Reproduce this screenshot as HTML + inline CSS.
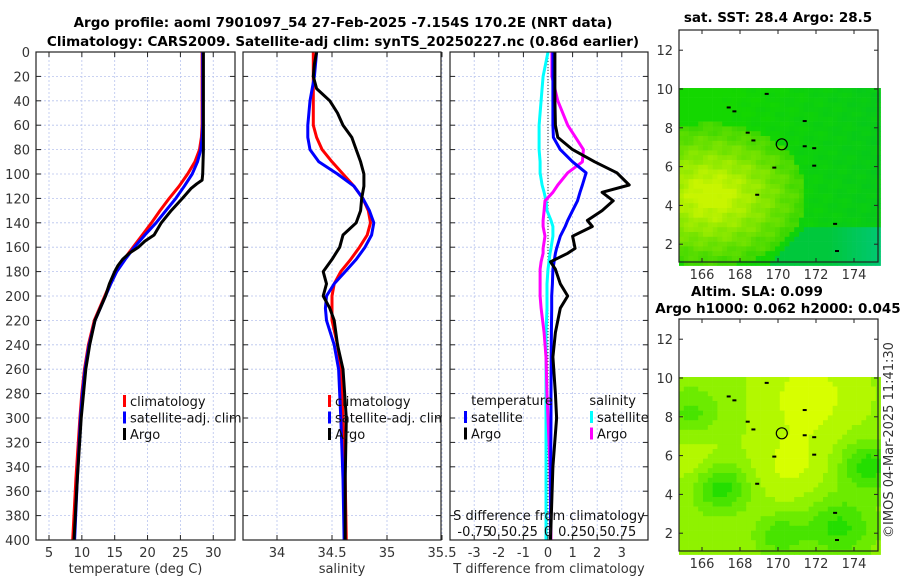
<!DOCTYPE html>
<html><head><meta charset="utf-8"><style>
body{margin:0;background:#fff}
svg{display:block;font-family:"DejaVu Sans","Liberation Sans",sans-serif}
.tk{font-size:13px;fill:#333}
.tt{font-size:13.5px;font-weight:bold;fill:#000}
.lg{font-size:13px;fill:#111}
</style></head><body>
<svg id="fig" width="900" height="580" viewBox="0 0 900 580">
<g id="root"></g>
</svg>
<script>
// ---- data ----
const depthsT=[0,20,40,60,70,80,90,100,110,120,130,140,150,160,170,180,190,200,220,240,260,280,300,350,400];
const tempClim=[28.3,28.3,28.3,28.3,28.2,27.9,27.2,26.1,24.8,23.3,21.9,20.6,19.2,17.8,16.4,15.2,14.3,13.5,11.9,11.0,10.4,10.0,9.7,9.1,8.6];
const tempSat=[28.4,28.4,28.4,28.4,28.3,28.1,27.6,26.8,25.6,24.3,22.8,21.3,19.6,18.0,16.6,15.3,14.4,13.6,12.0,11.1,10.5,10.1,9.8,9.3,8.9];
const depthsArgo=[0,20,40,60,80,100,105,108,112,120,130,140,150,155,160,165,170,175,180,190,200,220,240,260,300,350,400];
const tempArgo=[28.5,28.5,28.5,28.5,28.5,28.4,28.3,27.5,26.6,25.3,23.6,22.1,21.0,19.6,18.6,17.2,16.2,15.5,15.0,14.2,13.6,12.0,11.2,10.6,9.9,9.3,8.8];
const depthsS=[0,10,20,30,40,50,60,70,80,90,100,110,120,130,140,150,160,170,180,190,200,210,220,240,260,300,350,400];
const salClim=[34.33,34.33,34.33,34.33,34.33,34.33,34.33,34.36,34.41,34.5,34.6,34.7,34.78,34.83,34.85,34.82,34.75,34.67,34.58,34.52,34.5,34.5,34.5,34.55,34.58,34.6,34.62,34.63];
const salSat=[34.36,34.35,34.34,34.32,34.3,34.29,34.28,34.28,34.3,34.38,34.55,34.7,34.78,34.84,34.88,34.86,34.8,34.72,34.62,34.52,34.45,34.44,34.45,34.52,34.56,34.58,34.6,34.61];
const salArgo=[34.36,34.34,34.33,34.36,34.48,34.55,34.6,34.68,34.72,34.76,34.79,34.79,34.77,34.76,34.72,34.6,34.57,34.5,34.42,34.45,34.42,34.48,34.52,34.55,34.6,34.63,34.62,34.62];
const depthsD=[0,20,40,60,70,80,90,99,109,115,122,130,138,143,151,161,165,172,178,190,200,210,230,250,280,300,340,400];
const tDiffArgo=[0.28,0.28,0.28,0.3,0.4,1.0,1.9,2.8,3.3,2.2,2.65,2.2,1.6,1.8,1.0,1.1,0.8,0.1,0.3,0.5,0.8,0.5,0.3,0.2,0.3,0.35,0.2,0.1];
const tDiffSat=[0.2,0.2,0.2,0.2,0.22,0.5,1.0,1.55,1.4,1.3,1.2,1.0,0.8,0.7,0.5,0.35,0.3,0.25,0.2,0.18,0.15,0.15,0.14,0.13,0.12,0.12,0.11,0.1];
const sDiffSat=[0,-0.05,-0.07,-0.09,-0.09,-0.09,-0.08,-0.08,-0.06,-0.04,-0.02,-0.01,0.03,0.05,0.05,0.03,0.02,0.01,0,-0.01,-0.01,-0.01,-0.02,-0.02,-0.02,-0.02,-0.02,-0.02];
const sDiffArgo=[0.04,0.04,0.1,0.2,0.28,0.36,0.35,0.2,0.1,0.05,-0.03,-0.04,-0.05,-0.05,-0.03,-0.05,-0.05,-0.07,-0.08,-0.08,-0.08,-0.07,-0.04,-0.02,-0.01,0,0.02,0.03];
const depthTicks=[0,20,40,60,80,100,120,140,160,180,200,220,240,260,280,300,320,340,360,380,400];
const tTicks=[5,10,15,20,25,30];
const sTicks=[34,34.5,35,35.5];
const dTicks=[-3,-2,-1,0,1,2,3];
const sdTickLabels=["-0.75","0.5","0.25","0","0.25","0.5","0.75"];
const sdTicks=[-0.75,-0.5,-0.25,0,0.25,0.5,0.75];
const mapLonTicks=[166,168,170,172,174];
const mapLatTicks=[2,4,6,8,10,12];

// ---- helpers ----
const NS="http://www.w3.org/2000/svg";
const root=document.getElementById('root');
function mk(tag,attrs,parent){const e=document.createElementNS(NS,tag);for(const k in attrs)e.setAttribute(k,attrs[k]);(parent||root).appendChild(e);return e;}
function txt(s,x,y,cls,anchor,parent){const t=mk('text',{x:x,y:y,class:cls,'text-anchor':anchor||'middle'},parent);t.textContent=s;return t;}
const Y0=52,Y1=540;
const yD=d=>Y0+d/400*(Y1-Y0);

function panel(name,x0,x1,xScale,xt,xtl,xlabel){
  const g=mk('g',{});
  
  
  mk('rect',{x:x0,y:Y0,width:x1-x0,height:Y1-Y0,fill:'#fff'},g);
  depthTicks.forEach(d=>{mk('line',{x1:x0,x2:x1,y1:yD(d),y2:yD(d),stroke:'#b8c4ee','stroke-width':0.8,'stroke-dasharray':'2,2'},g);});
  xt.forEach(v=>{const x=xScale(v);mk('line',{x1:x,x2:x,y1:Y0,y2:Y1,stroke:'#b8c4ee','stroke-width':0.8,'stroke-dasharray':'2,2'},g);});
  depthTicks.forEach(d=>{mk('line',{x1:x0,x2:x0+5,y1:yD(d),y2:yD(d),stroke:'#222'},g);mk('line',{x1:x1-5,x2:x1,y1:yD(d),y2:yD(d),stroke:'#222'},g);});
  xt.forEach((v,i)=>{const x=xScale(v);mk('line',{x1:x,x2:x,y1:Y1,y2:Y1-5,stroke:'#222'},g);mk('line',{x1:x,x2:x,y1:Y0,y2:Y0+5,stroke:'#222'},g);txt(xtl[i],x,557,'tk','middle',g);});
  const lab=txt(xlabel,(x0+x1)/2,573,'tk','middle',g);
  
  
  return g;
}
function frame(g,x0,x1){mk('rect',{x:x0,y:Y0,width:x1-x0,height:Y1-Y0,fill:'none',stroke:'#222','stroke-width':1.2},g);}
function line(g,name,xs,ds,xScale,color,w){
  const p=mk('polyline',{points:xs.map((v,i)=>xScale(v).toFixed(1)+','+yD(ds[i]).toFixed(1)).join(' '),fill:'none',stroke:color,'stroke-width':w||3,'stroke-linejoin':'round'},g);
  
  
}
function legend(g,items,x,y){
  items.forEach((it,i)=>{
    mk('rect',{x:x,y:y+i*16.5-6,width:3,height:12,fill:it[1]},g);
    const t=txt(it[0],x+7,y+i*16.5+5,'lg','start',g);
    
    
  });
}

// titles
const t1=txt('Argo profile: aoml 7901097_54 27-Feb-2025 -7.154S 170.2E (NRT data)',343,27,'tt');


const t2=txt('Climatology: CARS2009. Satellite-adj clim: synTS_20250227.nc (0.86d earlier)',343,46,'tt');



// y tick labels
depthTicks.forEach(d=>{const t=txt(String(d),30,yD(d)+5,'tk','end');});

// panel 1 temperature
const xT=v=>49+(v-5)*6.57;
const g1=panel('temperature-panel',36,235,xT,tTicks,tTicks.map(String),'temperature (deg C)');
line(g1,'temp-climatology',tempClim,depthsT,xT,'#ff0000');
line(g1,'temp-satellite-adj',tempSat,depthsT,xT,'#0000ff');
line(g1,'temp-argo',tempArgo,depthsArgo,xT,'#000');
legend(g1,[['climatology','#f00'],['satellite-adj. clim','#00f'],['Argo','#000']],123,401);
frame(g1,36,235);

// panel 2 salinity
const xS=v=>277+(v-34)*110;
const g2=panel('salinity-panel',243,441,xS,sTicks,['34','34.5','35','35.5'],'salinity');
line(g2,'sal-climatology',salClim,depthsS,xS,'#ff0000');
line(g2,'sal-satellite-adj',salSat,depthsS,xS,'#0000ff');
line(g2,'sal-argo',salArgo,depthsS,xS,'#000');
legend(g2,[['climatology','#f00'],['satellite-adj. clim','#00f'],['Argo','#000']],328,401);
frame(g2,243,441);
mk('rect',{x:442,y:405,width:7,height:20,fill:'#fff'});

// panel 3 differences
const xD=v=>548+v*24.6;
const xSD=v=>548+v*98.4;
const g3=panel('difference-panel',450,648,xD,dTicks,dTicks.map(String),'T difference from climatology');
mk('line',{x1:xD(0),x2:xD(0),y1:Y0,y2:Y1,stroke:'#333','stroke-width':1,'stroke-dasharray':'1,2'},g3);
line(g3,'sdiff-satellite',sDiffSat,depthsD,xSD,'#00ffff');
line(g3,'sdiff-argo',sDiffArgo,depthsD,xSD,'#ff00ff');
line(g3,'tdiff-satellite',tDiffSat,depthsD,xD,'#0000ff');
line(g3,'tdiff-argo',tDiffArgo,depthsD,xD,'#000');
txt('temperature',512,405,'lg','middle',g3);
legend(g3,[['satellite','#00f'],['Argo','#000']],464,417);
txt('salinity',636,405,'lg','end',g3);
legend(g3,[['satellite','#0ff'],['Argo','#f0f']],590,417);
txt('S difference from climatology',549,520,'lg','middle',g3);
sdTicks.forEach((v,i)=>{txt(sdTickLabels[i],xSD(v),536,'lg','middle',g3);});
frame(g3,450,648);

// ---- maps ----
function map(name,top,field,titleLines){
  const g=mk('g',{});
  
  
  const x0=679,x1=878,y0=top,y1=top+232;
  const lx=l=>702+(l-166)*19, ly=l=>(top+59)+(10-l)*19.4;
  const fy0=ly(10.05), fy1=y1, fx1=876, cs=4.8;
  for(let y=fy0;y<fy1;y+=cs){for(let x=x0;x<fx1;x+=cs){
    mk('rect',{x:x.toFixed(1),y:y.toFixed(1),width:cs+0.3,height:cs+0.3,fill:field((x-x0)/(fx1-x0),(y-fy0)/(fy1-fy0))},g);
  }}
  [[167.3,9.1],[167.6,8.9],[168.6,7.4],[169.7,6.0],[171.3,7.1],[171.8,7.0],[171.8,6.1],[172.9,3.1],[173.0,1.7],[171.3,8.4],[168.3,7.8],[169.3,9.8],[168.8,4.6]].forEach(p=>{
    mk('rect',{x:lx(p[0]),y:ly(p[1]),width:4,height:2,fill:'#000'},g);});
  const c=mk('circle',{cx:lx(170.2),cy:ly(7.15),r:5.5,fill:'none',stroke:'#000','stroke-width':1.2},g);
  
  
  mk('rect',{x:x0,y:y0,width:x1-x0,height:y1-y0,fill:'none',stroke:'#222','stroke-width':1.2},g);
  mapLonTicks.forEach(l=>{const x=lx(l);mk('line',{x1:x,x2:x,y1:y1,y2:y1-4,stroke:'#222'},g);mk('line',{x1:x,x2:x,y1:y0,y2:y0+4,stroke:'#222'},g);txt(String(l),x,y1+17,'tk','middle',g);});
  mapLatTicks.forEach(l=>{const y=ly(l);mk('line',{x1:x0,x2:x0+4,y1:y,y2:y,stroke:'#222'},g);mk('line',{x1:x1-4,x2:x1,y1:y,y2:y,stroke:'#222'},g);txt(String(l),x0-6,y+5,'tk','end',g);});
  titleLines.forEach((s,i)=>{txt(s[0],s[1],s[2],'tt','middle',g);});
}
function mix(a,b,t){t=Math.max(0,Math.min(1,t));return 'rgb('+a.map((v,i)=>Math.round(v+(b[i]-v)*t)).join(',')+')';}
function sst(u,v){
  const dx=u-0.15,dy=v-0.6;let w=1-Math.sqrt(dx*dx*1.3+dy*dy*1.8)/0.55;
  const n=(Math.sin(u*57+v*31)*0.5+Math.sin(u*23-v*71)*0.5)*0.12;
  if(u+v*0.9>1.35&&v>0.8) return mix([0,200,60],[0,200,130],(u-0.75)*3);
  if(w>0) return mix([60,215,0],[200,245,0],w*1.2+n);
  return mix([20,215,0],[0,195,40],u*0.8+n-0.2);
}
function sla(u,v){
  let s=0.7+0.3*Math.exp(-((u-0.65)**2+(v-0.1)**2)/0.06)+0.25*Math.exp(-((u-0.55)**2+(v-0.5)**2)/0.04)
   -0.55*Math.exp(-((u-0.2)**2+(v-0.62)**2)/0.02)-0.55*Math.exp(-((u-0.95)**2+(v-0.5)**2)/0.02)
   -0.5*Math.exp(-((u-0.8)**2+(v-0.85)**2)/0.03)-0.4*Math.exp(-((u-0.5)**2+(v-0.9)**2)/0.015)
   -0.35*Math.exp(-((u-0.05)**2+(v-0.2)**2)/0.02)+0.2*Math.exp(-((u-0.05)**2+(v-0.45)**2)/0.03);
  s=Math.round(s*6)/6;
  return mix([0,215,0],[215,255,0],s);
}
map('sst-map',30,sst,[['sat. SST: 28.4 Argo: 28.5',778,22]]);
map('sla-map',319,sla,[['Altim. SLA: 0.099',757,296],['Argo h1000: 0.062 h2000: 0.045',778,313]]);
const ts=txt('©IMOS 04-Mar-2025 11:41:30',0,0,'tk','middle');
ts.setAttribute('transform','translate(893,440) rotate(-90)');


</script>
</body></html>
